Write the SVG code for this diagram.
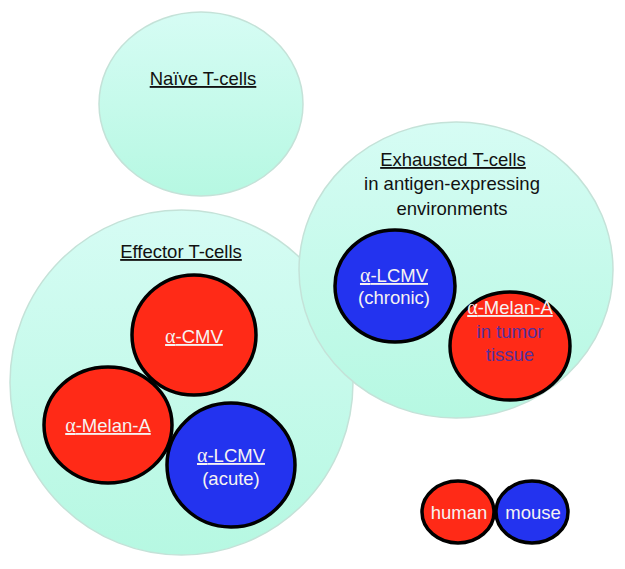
<svg xmlns="http://www.w3.org/2000/svg" width="625" height="569" viewBox="0 0 625 569">
<defs>
<linearGradient id="aqua" x1="0" y1="0" x2="0" y2="1">
<stop offset="0" stop-color="#d6fcf4"/>
<stop offset="1" stop-color="#b6f8e2"/>
</linearGradient>
<style>
.bg{fill:url(#aqua);stroke:#c4e2d8;stroke-width:1.5}
.red{fill:#ff2a17;stroke:#000;stroke-width:3.5}
.blue{fill:#2333ef;stroke:#000;stroke-width:3.5}
text{font-family:"Liberation Sans",Arial,sans-serif;font-size:18.5px;text-anchor:middle}
.hd{fill:#111;text-decoration:underline}
.sub{fill:#111}
.lbl{fill:#f6f2f2}
.ul{text-decoration:underline}
.a{font-family:"Liberation Serif","Times New Roman",serif;font-size:20px}
.tum{fill:#55309a}
</style>
</defs>
<rect width="625" height="569" fill="#fff"/>
<g id="naive">
<ellipse class="bg" cx="201" cy="104" rx="102" ry="92"/>
<text class="hd" x="203" y="85">Naïve T-cells</text>
</g>
<g id="effector">
<ellipse class="bg" cx="181.5" cy="382.5" rx="171.5" ry="172.5"/>
<text class="hd" x="181" y="258">Effector T-cells</text>
</g>
<g id="exhausted">
<ellipse class="bg" cx="456" cy="270" rx="157" ry="148"/>
<text class="hd" x="453" y="166">Exhausted T-cells</text>
<text class="sub" x="452" y="190">in antigen-expressing</text>
<text class="sub" x="452" y="215">environments</text>
</g>
<g id="cmv">
<ellipse class="red" cx="194" cy="335" rx="62" ry="60"/>
<text class="lbl ul" x="194" y="343"><tspan class="a">α</tspan>-CMV</text>
</g>
<g id="melanA-effector">
<ellipse class="red" cx="108" cy="425" rx="64" ry="58"/>
<text class="lbl ul" x="108" y="432"><tspan class="a">α</tspan>-Melan-A</text>
</g>
<g id="lcmv-acute">
<ellipse class="blue" cx="231" cy="465" rx="64" ry="62"/>
<text class="lbl ul" x="231" y="462"><tspan class="a">α</tspan>-LCMV</text>
<text class="lbl" x="231" y="485">(acute)</text>
</g>
<g id="lcmv-chronic">
<ellipse class="blue" cx="395" cy="286" rx="60" ry="56"/>
<text class="lbl ul" x="394" y="282"><tspan class="a">α</tspan>-LCMV</text>
<text class="lbl" x="394" y="304">(chronic)</text>
</g>
<g id="melanA-tumor">
<ellipse class="red" cx="510" cy="346" rx="60" ry="54"/>
<text class="lbl ul" x="510" y="314"><tspan class="a">α</tspan>-Melan-A</text>
<text class="tum" x="510" y="338">in tumor</text>
<text class="tum" x="510" y="361">tissue</text>
</g>
<g id="legend-human">
<ellipse class="red" cx="458" cy="512" rx="36" ry="31"/>
<text class="lbl" x="459" y="519">human</text>
</g>
<g id="legend-mouse">
<ellipse class="blue" cx="532" cy="512" rx="36" ry="31"/>
<text class="lbl" x="533" y="519">mouse</text>
</g>
<g id="connectors"/>
</svg>
